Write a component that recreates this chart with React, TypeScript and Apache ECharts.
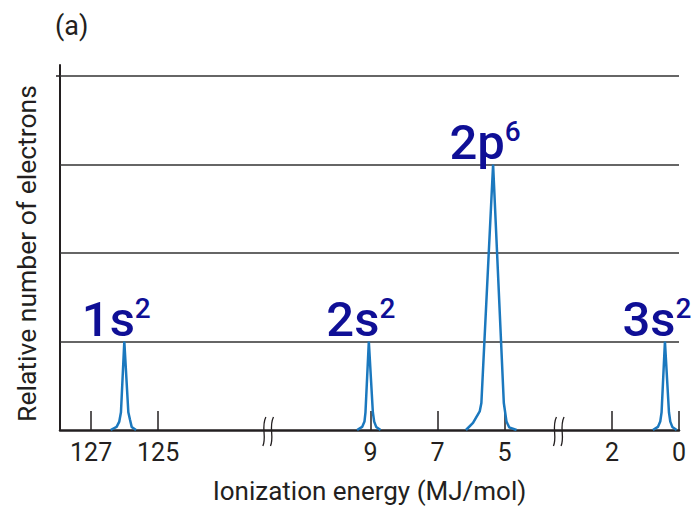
import React, { useEffect, useRef } from "react";
import * as echarts from "echarts";

// ---- Broken x-axis definition (real energy ranges, descending) ----
const X_SEGMENTS: [number, number][] = [
  [127.93, 122.0],
  [11.8, 3.5],
  [3.5, 0],
];
const X_GAPS = [0.54, 0.21];

// ---- Tick labels ----
const X_TICKS = [127, 125, 9, 7, 5, 2, 0];
const Y_GRID = [2, 4, 6, 8];

// ---- Peaks: [ionization energy (MJ/mol), relative number of electrons] ----
const PEAK_1S = [
  [126.42, 0], [126.24, 0.07], [126.16, 0.19], [126.11, 0.4], [126.01, 2],
  [125.89, 0.4], [125.84, 0.23], [125.79, 0.07], [125.66, 0],
];
const PEAK_2S = [
  [9.4, 0], [9.25, 0.07], [9.18, 0.19], [9.15, 0.4], [9.05, 2],
  [8.93, 0.4], [8.89, 0.19], [8.83, 0.07], [8.7, 0],
];
const PEAK_2P = [
  [6.15, 0], [5.94, 0.16], [5.74, 0.42], [5.69, 0.61], [5.34, 6],
  [5.02, 0.61], [4.94, 0.19], [4.86, 0.06], [4.64, 0],
];
const PEAK_3S = [
  [0.78, 0], [0.63, 0.07], [0.56, 0.19], [0.52, 0.4], [0.42, 2],
  [0.3, 0.4], [0.26, 0.19], [0.2, 0.07], [0.07, 0],
];
const PEAKS = [PEAK_1S, PEAK_2S, PEAK_2P, PEAK_3S];
const SHELLS = ["1s", "2s", "2p", "3s"];
const SHELL_SUPS = ["2", "2", "6", "2"];

function toVirtual(e: number): number {
  let offset = 0;
  for (let i = 0; i < X_SEGMENTS.length; i++) {
    const [hi, lo] = X_SEGMENTS[i];
    if (e <= hi && e >= lo) return offset + (hi - e);
    offset += hi - lo + (X_GAPS[i] ?? 0);
  }
  return NaN;
}

function totalVirtual(): number {
  let offset = 0;
  for (let i = 0; i < X_SEGMENTS.length; i++) {
    const [hi, lo] = X_SEGMENTS[i];
    offset += hi - lo + (X_GAPS[i] ?? 0);
  }
  return offset;
}

function breakCenters(): number[] {
  const res: number[] = [];
  let offset = 0;
  for (let i = 0; i < X_SEGMENTS.length - 1; i++) {
    const [hi, lo] = X_SEGMENTS[i];
    offset += hi - lo;
    res.push(offset + X_GAPS[i] / 2);
    offset += X_GAPS[i];
  }
  return res;
}

const INK = "#231f20";
const BLUE = "#1b78be";
const HAND = "#0f0f96";
const FONT = "Roboto, 'Open Sans', sans-serif";

export default function App() {
  const ref = useRef<HTMLDivElement>(null);

  useEffect(() => {
    if (!ref.current) return;
    const chart = echarts.init(ref.current, undefined, { renderer: "svg" });
    const xMax = totalVirtual();
    const tickV = X_TICKS.map(toVirtual);

    const peakSeries = PEAKS.map((pk) => ({
      type: "line",
      data: pk.map(([e, c]) => [toVirtual(e), c]),
      showSymbol: false,
      symbol: "none",
      lineStyle: { color: BLUE, width: 2.5 },
      z: 5,
      silent: true,
    }));

    const labelData = PEAKS.map((pk, i) => {
      let best = pk[0];
      pk.forEach((p) => {
        if (p[1] > best[1]) best = p;
      });
      return { value: [toVirtual(best[0]), best[1]], shell: SHELLS[i], sup: SHELL_SUPS[i] };
    });

    const option: any = {
      animation: false,
      grid: {
        left: 60,
        right: 12,
        top: 65,
        bottom: 78,
        containLabel: false,
        outerBoundsMode: "none",
      },
      graphic: [
        {
          type: "text",
          left: 55,
          top: 12,
          style: { text: "(a)", fontSize: 27, fontFamily: FONT, fill: INK },
        },
      ],
      xAxis: {
        type: "value",
        min: 0,
        max: xMax,
        name: "Ionization energy (MJ/mol)",
        nameLocation: "middle",
        nameGap: 48,
        nameTextStyle: { fontSize: 26, fontFamily: FONT, color: INK },
        axisLine: { show: true, onZero: false, lineStyle: { color: INK, width: 2.5 } },
        axisTick: {
          show: true,
          inside: true,
          length: 19,
          customValues: tickV,
          lineStyle: { color: INK, width: 1.5 },
        },
        axisLabel: {
          show: true,
          customValues: tickV,
          margin: 10,
          fontSize: 25,
          fontFamily: FONT,
          color: INK,
          formatter: (val: number) => {
            const i = tickV.findIndex((v) => Math.abs(v - val) < 1e-6);
            return i >= 0 ? String(X_TICKS[i]) : "";
          },
        },
        splitLine: { show: false },
      },
      yAxis: {
        type: "value",
        min: 0,
        max: 8.25,
        name: "Relative number of electrons",
        nameLocation: "middle",
        nameGap: 20,
        nameTextStyle: { fontSize: 26.5, fontFamily: FONT, color: INK, padding: [0, 12, 0, 0] },
        axisLine: { show: true, lineStyle: { color: INK, width: 2 } },
        axisTick: { show: true, length: 4, customValues: [8], lineStyle: { color: INK, width: 1.5 } },
        axisLabel: { show: false },
        splitLine: { show: false },
      },
      series: [
        {
          type: "line",
          data: [],
          silent: true,
          markLine: {
            silent: true,
            symbol: ["none", "none"],
            label: { show: false },
            lineStyle: { color: "#333", width: 1.5, type: "solid" },
            data: Y_GRID.map((v) => ({ yAxis: v })),
          },
          z: 2,
        },
        ...peakSeries,
        {
          type: "scatter",
          data: labelData,
          symbolSize: 2,
          itemStyle: { color: "rgba(0,0,0,0)" },
          silent: true,
          z: 6,
          label: {
            show: true,
            position: "top",
            distance: 0,
            offset: [-8, 3],
            color: HAND,
            opacity: 1,
            textBorderWidth: 0,
            formatter: (p: any) => `{n|${p.data.shell}}{s|${p.data.sup}}`,
            rich: {
              n: {
                fontSize: 49,
                lineHeight: 49,
                fontFamily: FONT,
                fontWeight: 500,
                color: HAND,
                verticalAlign: "bottom",
              },
              s: {
                fontSize: 28,
                lineHeight: 28,
                fontFamily: FONT,
                fontWeight: 500,
                color: HAND,
                verticalAlign: "top",
              },
            },
          },
        },
        {
          type: "custom",
          data: breakCenters().map((v) => [v, 0]),
          clip: false,
          silent: true,
          z: 7,
          renderItem: (params: any, api: any) => {
            const p = api.coord([api.value(0), 0]);
            return {
              type: "group",
              children: [-3.8, 3.8].map((dx) => ({
                type: "bezierCurve",
                shape: {
                  x1: p[0] + dx + 2,
                  y1: p[1] - 13,
                  cpx1: p[0] + dx - 3,
                  cpy1: p[1] - 3,
                  cpx2: p[0] + dx + 3,
                  cpy2: p[1] + 7,
                  x2: p[0] + dx - 1,
                  y2: p[1] + 16,
                },
                style: { stroke: INK, lineWidth: 1.3, fill: null },
              })),
            };
          },
        },
      ],
    };

    chart.setOption(option);
    return () => chart.dispose();
  }, []);

  return (
    <div
      ref={ref}
      style={{ position: "absolute", left: 0, top: 0, width: 691, height: 508, background: "#fff" }}
    />
  );
}
